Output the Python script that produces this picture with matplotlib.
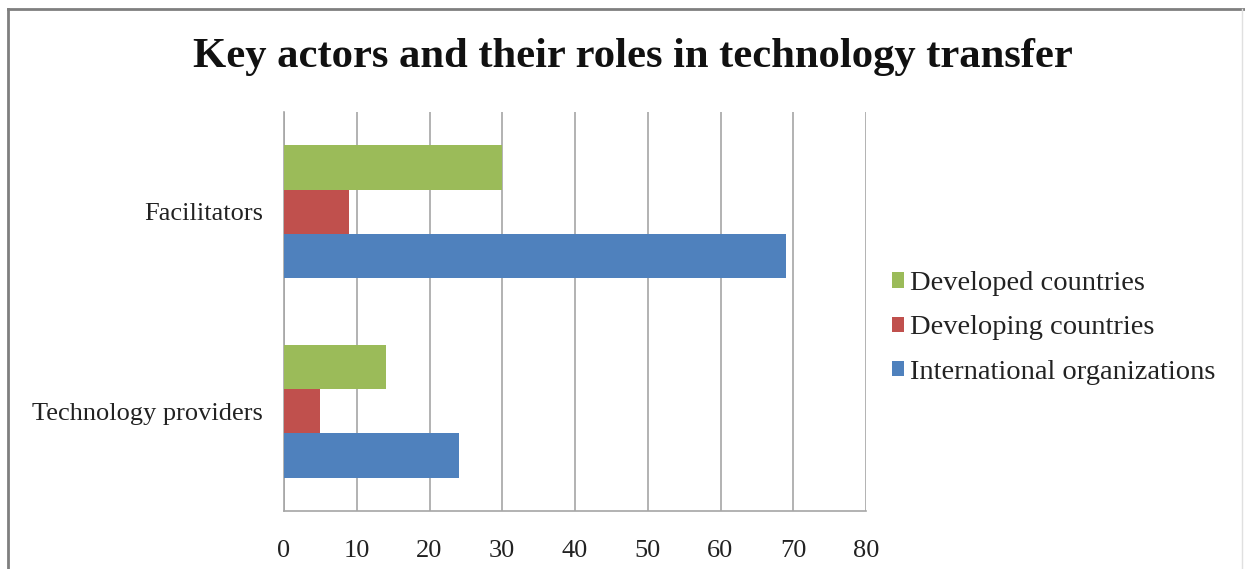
import numpy as np
import matplotlib.pyplot as plt
from matplotlib.lines import Line2D

categories = ['Technology providers', 'Facilitators']
series = ['International organizations', 'Developing countries', 'Developed countries']
international = [24, 69]
developing = [5, 9]
developed = [14, 30]
colors = ['#4F81BD', '#C0504D', '#9BBB59']
x_ticks = [0, 10, 20, 30, 40, 50, 60, 70, 80]

plt.rcParams['font.family'] = ['Liberation Serif', 'DejaVu Serif']

W, H = 1245, 569
fig = plt.figure(figsize=(W / 100, H / 100), dpi=100)
ax = fig.add_axes([284 / W, 1 - 511 / H, (866 - 284) / W, (511 - 112) / H])

y = np.arange(len(categories))
h = 1 / 4.5
values = [international, developing, developed]
for i, (name, vals, c) in enumerate(zip(series, values, colors)):
    ax.barh(y + (i - 1) * h, vals, height=h, color=c, label=name, zorder=3)

ax.set_xlim(0, 80)
ax.set_ylim(-0.5, 1.5)
ax.set_xticks(x_ticks)
ax.set_xticklabels([str(t) for t in x_ticks], fontsize=19)
ax.set_yticks(y)
ax.set_yticklabels(categories, fontsize=19)
ax.tick_params(axis='both', length=0, colors='#222222')
ax.tick_params(axis='x', pad=21)
ax.tick_params(axis='y', pad=15)
ax.grid(axis='x', color='#A6A6A6', linewidth=1.2, zorder=0)
for s in ['top', 'right']:
    ax.spines[s].set_visible(False)
for s in ['left', 'bottom']:
    ax.spines[s].set_color('#A6A6A6')
    ax.spines[s].set_linewidth(1.2)

handles, labels = ax.get_legend_handles_labels()
leg = fig.legend(handles[::-1], labels[::-1], loc='center left',
                 bbox_to_anchor=(866 / W, 1 - 328 / H), frameon=False,
                 fontsize=20.5, handlelength=0.45, handleheight=0.45,
                 handletextpad=0.2, labelspacing=0.68)
for t in leg.get_texts():
    t.set_color('#222222')

fig.text(633 / W, 1 - 57 / H, 'Key actors and their roles in technology transfer',
         ha='center', va='center', fontsize=30.7, fontweight='bold', color='#111111')

# outer frame
fig.add_artist(Line2D([8 / W, 8 / W], [0, 1 - 9 / H], color='#7F7F7F', linewidth=2,
                      transform=fig.transFigure))
fig.add_artist(Line2D([8 / W, 1], [1 - 9 / H, 1 - 9 / H], color='#7F7F7F', linewidth=2,
                      transform=fig.transFigure))
fig.add_artist(Line2D([1242 / W, 1242 / W], [0, 1 - 9 / H], color='#E0E0E0', linewidth=1,
                      transform=fig.transFigure))

fig.savefig('out.png', dpi=100)
